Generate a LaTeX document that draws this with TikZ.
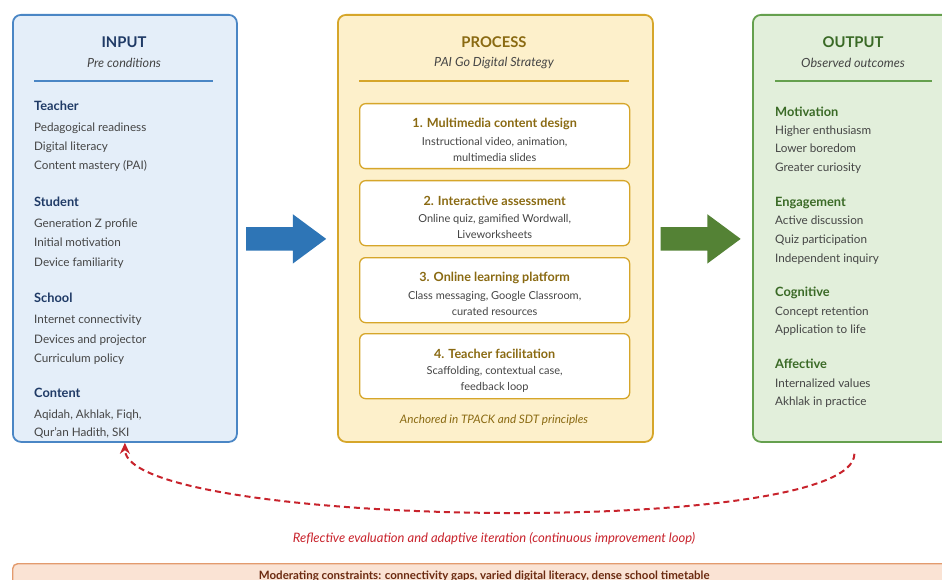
\documentclass[tikz,border=0pt]{standalone}
\usepackage{fontspec}
\setmainfont{Lato}
\usepackage{xcolor}
\usetikzlibrary{arrows.meta,positioning,shapes.arrows,calc}
\definecolor{inedge}{HTML}{4A86C5}
\definecolor{infill}{HTML}{E4EEF9}
\definecolor{innavy}{HTML}{1F3A66}
\definecolor{procedge}{HTML}{D6A62A}
\definecolor{procfill}{HTML}{FDF0CB}
\definecolor{procdark}{HTML}{8A6A12}
\definecolor{outedge}{HTML}{65A04E}
\definecolor{outfill}{HTML}{E2EFDB}
\definecolor{outdark}{HTML}{3A6A26}
\definecolor{arrowblue}{HTML}{2E75B6}
\definecolor{arrowgreen}{HTML}{548235}
\definecolor{fbred}{HTML}{C8232C}
\definecolor{bandfill}{HTML}{FAE3D4}
\definecolor{bandedge}{HTML}{E39B6E}
\definecolor{banddark}{HTML}{6B2A10}
\definecolor{itemgray}{HTML}{454545}
\tikzset{
  panel/.style={draw, line width=1.8pt, rounded corners=8pt, anchor=north west, inner sep=0pt,
                minimum height=427pt},
  ptitle/.style={font=\bfseries\fontsize{14.8}{17}\selectfont},
  psub/.style={font=\itshape\fontsize{12.6}{15}\selectfont, text=itemgray},
  grp/.style={anchor=base west, inner sep=0pt, font=\bfseries\fontsize{12.8}{15}\selectfont},
  item/.style={anchor=base west, inner sep=0pt, text=itemgray, font=\fontsize{11.7}{14}\selectfont},
  stepbox/.style={draw=procedge, line width=1.3pt, rounded corners=6pt, fill=white, anchor=north west,
                  minimum width=270pt, minimum height=65pt},
  steptitle/.style={text=procdark, font=\bfseries\fontsize{12.6}{15}\selectfont, inner sep=0pt},
  stepnote/.style={text=itemgray, align=center, font=\fontsize{11}{16}\selectfont, inner sep=0pt},
  fat/.style={single arrow, anchor=tip, minimum height=80pt, inner xsep=0pt, inner ysep=11.5pt,
              single arrow head extend=13pt, single arrow tip angle=73},
  feedback/.style={fbred, line width=2pt, dash pattern=on 6pt off 4pt,
                   -{Stealth[length=11pt, width=10pt]}},
}
\begin{document}
\begin{tikzpicture}[x=1pt, y=-1pt]
  \useasboundingbox (0,0) rectangle (942,580);
  \clip (0,0) rectangle (942,580);
  % the three columns
  \node[panel, draw=inedge, fill=infill, minimum width=224pt] (inbox) at (12,14) {};
  \node[panel, draw=procedge, fill=procfill, minimum width=315pt] (procbox) at (337,14) {};
  \node[panel, draw=outedge, fill=outfill, minimum width=203pt] (outbox) at (752,14) {};

  % INPUT
  \node[ptitle, text=innavy] (intitle) at (124,42) {INPUT};
  \node[psub] (insub) at (124,63) {Pre conditions};
  \draw[inedge, line width=1.1pt] (34,81) -- (213,81);
  \node[grp, text=innavy] (teacher) at (34,110.5) {Teacher};
  \node[item] (t1) at (34,132) {Pedagogical readiness};
  \node[item] (t2) at (34,151) {Digital literacy};
  \node[item] (t3) at (34,170) {Content mastery (PAI)};
  \node[grp, text=innavy] (student) at (34,206.5) {Student};
  \node[item] (st1) at (34,228) {Generation Z profile};
  \node[item] (st2) at (34,247) {Initial motivation};
  \node[item] (st3) at (34,266) {Device familiarity};
  \node[grp, text=innavy] (school) at (34,302.5) {School};
  \node[item] (sc1) at (34,323) {Internet connectivity};
  \node[item] (sc2) at (34,343) {Devices and projector};
  \node[item] (sc3) at (34,362) {Curriculum policy};
  \node[grp, text=innavy] (content) at (34,397.5) {Content};
  \node[item] (c1) at (34,418) {Aqidah, Akhlak, Fiqh,};
  \node[item] (c2) at (34,436) {Qur'an Hadith, SKI};

  % PROCESS
  \node[ptitle, text=procdark] (proctitle) at (494,42) {PROCESS};
  \node[psub] (procsub) at (494,63) {PAI Go Digital Strategy};
  \draw[procedge, line width=1.1pt] (359,81) -- (629,81);
  \node[stepbox] (s1) at (359,103) {};
  \node[steptitle] (s1t) at ($(s1.north)+(0,20.5)$) {1. Multimedia content design};
  \node[stepnote] (s1n) at ($(s1.north)+(0,46)$) {Instructional video, animation,\\ multimedia slides};
  \node[stepbox] (s2) at (359,180) {};
  \node[steptitle] (s2t) at ($(s2.north)+(0,20.5)$) {2. Interactive assessment};
  \node[stepnote] (s2n) at ($(s2.north)+(0,46)$) {Online quiz, gamified Wordwall,\\ Liveworksheets};
  \node[stepbox] (s3) at (359,257) {};
  \node[steptitle] (s3t) at ($(s3.north)+(0,20.5)$) {3. Online learning platform};
  \node[stepnote] (s3n) at ($(s3.north)+(0,46)$) {Class messaging, Google Classroom,\\ curated resources};
  \node[stepbox] (s4) at (359,333) {};
  \node[steptitle] (s4t) at ($(s4.north)+(0,20.5)$) {4. Teacher facilitation};
  \node[stepnote] (s4n) at ($(s4.north)+(0,46)$) {Scaffolding, contextual case,\\ feedback loop};
  \node[font=\itshape\fontsize{11.7}{14}\selectfont, text=procdark] (anchored) at (494,420)
    {Anchored in TPACK and SDT principles};

  % OUTPUT
  \node[ptitle, text=outdark] (outtitle) at (853,42) {OUTPUT};
  \node[psub] (outsub) at (853,63) {Observed outcomes};
  \draw[outedge, line width=1.1pt] (775,81) -- (932,81);
  \node[grp, text=outdark] (motiv) at (775,116.5) {Motivation};
  \node[item] (m1) at (775,135) {Higher enthusiasm};
  \node[item] (m2) at (775,153) {Lower boredom};
  \node[item] (m3) at (775,172) {Greater curiosity};
  \node[grp, text=outdark] (engage) at (775,206.5) {Engagement};
  \node[item] (e1) at (775,225) {Active discussion};
  \node[item] (e2) at (775,243) {Quiz participation};
  \node[item] (e3) at (775,262) {Independent inquiry};
  \node[grp, text=outdark] (cogn) at (775,296.5) {Cognitive};
  \node[item] (cg1) at (775,315) {Concept retention};
  \node[item] (cg2) at (775,333) {Application to life};
  \node[grp, text=outdark] (affect) at (775,368.5) {Affective};
  \node[item] (af1) at (775,387) {Internalized values};
  \node[item] (af2) at (775,405) {Akhlak in practice};

  % block arrows between columns
  \node[fat, fill=arrowblue] (arrin) at ($(procbox.west)+(-10.5,10.5)$) {};
  \node[fat, fill=arrowgreen] (arrout) at ($(outbox.west)+(-11,10.5)$) {};

  % improvement loop
  \coordinate (fbstart) at ($(outbox.south)+(0,11)$);
  \draw[feedback] (fbstart) .. controls +(0,85) and +(0,85) .. (inbox.south);
  \node[font=\itshape\fontsize{13}{15}\selectfont, text=fbred] (fbtext) at (494,539)
    {Reflective evaluation and adaptive iteration (continuous improvement loop)};

  % constraints band
  \node[draw=bandedge, fill=bandfill, line width=1.4pt, rounded corners=5pt, anchor=north west,
        minimum width=943pt, minimum height=25pt, inner sep=0pt, text=banddark,
        font=\bfseries\fontsize{11.5}{13}\selectfont] (constraints) at (12,563)
    {Moderating constraints: connectivity gaps, varied digital literacy, dense school timetable};
\end{tikzpicture}
\end{document}
